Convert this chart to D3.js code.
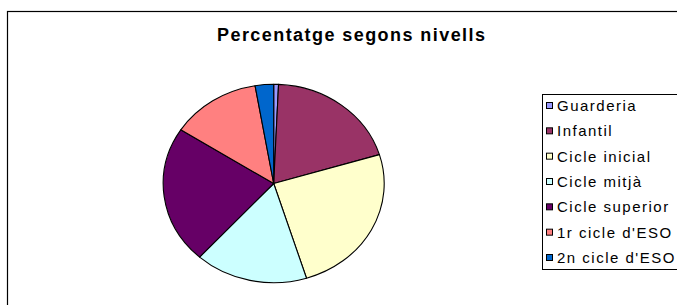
<!DOCTYPE html>
<html>
<head>
<meta charset="utf-8">
<script src="https://cdn.jsdelivr.net/npm/d3@7"></script>
<style>
  html, body { margin: 0; padding: 0; background: #fff; overflow: hidden; }
  text { font-family: "Liberation Sans", Arial, sans-serif; fill: #000; }
</style>
</head>
<body>
<div class="container"></div>
<script>
const title = "Percentatge segons nivells";
const levels = ["Guarderia", "Infantil", "Cicle inicial", "Cicle mitjà", "Cicle superior", "1r cicle d'ESO", "2n cicle d'ESO"];
const shares = [0.7, 19.6, 24.9, 16.5, 22.4, 13.2, 2.7];
const colors = ["#9999FF", "#993366", "#FFFFCC", "#CCFFFF", "#660066", "#FF8080", "#0066CC"];

const w = 677, h = 305;

const svg = d3.select('.container')
    .append('svg')
    .attr('width', w)
    .attr('height', h);

// chart frame, runs off the right and bottom edge like the original
svg.append('rect')
    .attr('x', 7.5).attr('y', 11.5)
    .attr('width', 720).attr('height', 320)
    .attr('fill', '#fff')
    .attr('stroke', '#000')
    .attr('stroke-width', 1.2);

svg.append('text')
    .attr('x', 351).attr('y', 41)
    .attr('text-anchor', 'middle')
    .attr('font-size', 18)
    .attr('font-weight', 'bold')
    .attr('textLength', 268)
    .attr('lengthAdjust', 'spacing')
    .text(title);

// pie is slightly squashed vertically
const cx = 273.7, cy = 183.5, rx = 110.5, ry = 99.2;

const pie = d3.pie().sort(null).startAngle(0).endAngle(2 * Math.PI);
const arc = d3.arc().innerRadius(0).outerRadius(ry);

const data = levels.map((name, i) => ({name, value: shares[i], color: colors[i]}));

svg.append('g')
    .attr('transform', `translate(${cx},${cy}) scale(${rx / ry},1)`)
    .selectAll('path')
    .data(pie.value(d => d.value)(data))
    .enter()
    .append('path')
    .attr('d', arc)
    .attr('fill', d => d.data.color)
    .attr('stroke', '#000')
    .attr('stroke-width', 1.1)
    .attr('stroke-linejoin', 'round')
    .attr('vector-effect', 'non-scaling-stroke');

// legend
const legend = svg.append('g').attr('id', 'legend');

legend.append('rect')
    .attr('x', 542.5).attr('y', 94.5)
    .attr('width', 160).attr('height', 175)
    .attr('fill', '#fff')
    .attr('stroke', '#000')
    .attr('stroke-width', 1);

const rowY = d3.scalePoint().domain(levels).range([106, 258]);

const item = legend.selectAll('g.item')
    .data(data)
    .enter()
    .append('g')
    .attr('class', 'item')
    .attr('transform', d => `translate(0,${rowY(d.name)})`);

item.append('rect')
    .attr('x', 546.5).attr('y', -3.5)
    .attr('width', 6).attr('height', 6)
    .attr('fill', d => d.color)
    .attr('stroke', '#000')
    .attr('stroke-width', 1);

item.append('text')
    .attr('x', 557).attr('y', 5)
    .attr('font-size', 15)
    .attr('letter-spacing', 1.5)
    .text(d => d.name);
</script>
</body>
</html>
